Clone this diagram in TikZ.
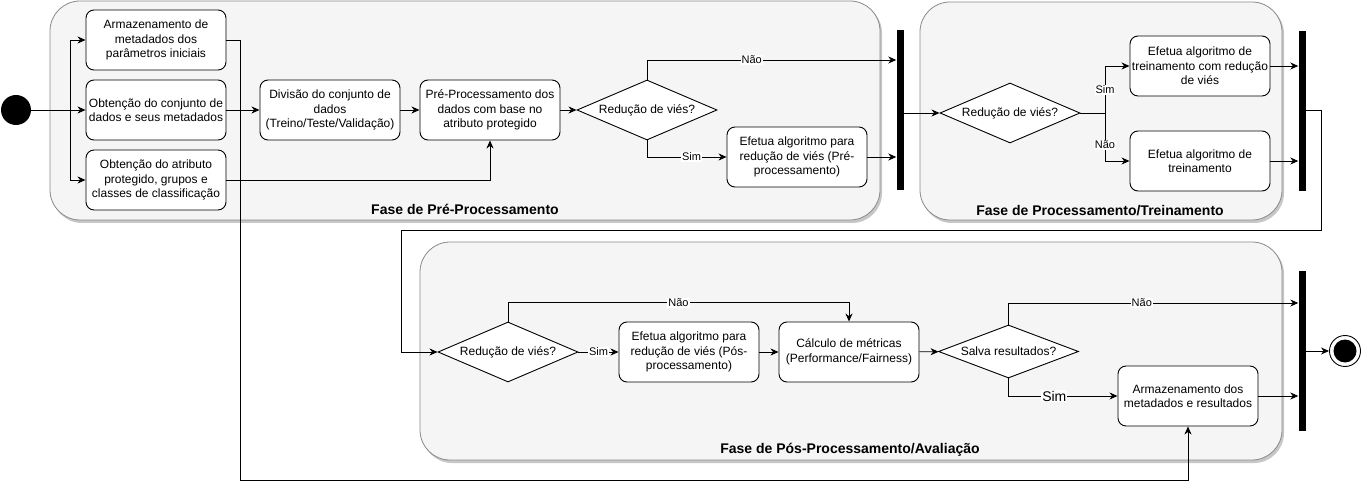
\documentclass[tikz,border=0pt]{standalone}
\usepackage{fontspec}
\setmainfont{Liberation Sans}
\usetikzlibrary{shapes.geometric,arrows.meta,positioning}

\definecolor{phasefill}{HTML}{F5F5F5}
\definecolor{phaseline}{HTML}{8A8A8A}

\tikzset{
  phase/.style={draw=phaseline, fill=phasefill, rounded corners=30pt, line width=0.8pt},
  phaseshadow/.style={fill=black!22, rounded corners=30pt},
  actbox/.style={draw, fill=white, rounded corners=8pt, line width=0.9pt,
    minimum width=140pt, minimum height=60pt, align=center, inner sep=1pt,
    font=\fontsize{12}{14.4}\selectfont},
  decision/.style={diamond, draw, fill=white, aspect=2.33, line width=0.9pt,
    minimum width=140pt, minimum height=60pt, inner sep=0pt,
    font=\fontsize{12}{14.4}\selectfont},
  syncbar/.style={rectangle, fill=black, minimum width=7pt, minimum height=160pt, inner sep=0pt},
  flow/.style={draw, line width=0.9pt, -{Stealth[length=8pt,width=7pt,inset=2.5pt]}},
  lbl/.style={fill=white, inner sep=1pt, font=\fontsize{11}{13}\selectfont},
  phasetitle/.style={font=\bfseries\fontsize{14}{16}\selectfont},
}

\begin{document}
\begin{tikzpicture}[x=1pt, y=-1pt]
\useasboundingbox (0,0) rectangle (1361,489);

% Draw the phases
\fill[phaseshadow] (52,3) rectangle (882,223);
\draw[phase] (50,1) rectangle (880,220);
\fill[phaseshadow] (922,4) rectangle (1284,223);
\draw[phase] (920,2) rectangle (1282,220);
\fill[phaseshadow] (422,244) rectangle (1284,463);
\draw[phase] (420,242) rectangle (1282,460);
\node[phasetitle] (title1) at (465,209) {Fase de Pré-Processamento};
\node[phasetitle] (title2) at (1100,211) {Fase de Processamento/Treinamento};
\node[phasetitle] (title3) at (850,450) {Fase de Pós-Processamento/Avaliação};

% Start and end
\node[circle, fill=black, minimum size=30pt, inner sep=0pt] (start) at (16,110) {};
\node[circle, draw, fill=white, line width=0.9pt, minimum size=31pt, inner sep=0pt] (end) at (1345,351) {};
\node[circle, fill=black, minimum size=23pt, inner sep=0pt] (endcore) at (end.center) {};

% Pre-processing
\coordinate (fork) at (70,110);
\node[actbox] (meta) at (156,40) {Armazenamento de\\metadados dos\\parâmetros iniciais};
\node[actbox] (data) at (156,110) {Obtenção do conjunto de\\dados e seus metadados};
\node[actbox] (attr) at (156,180) {Obtenção do atributo\\protegido, grupos e\\classes de classificação};
\node[actbox] (split) at (330,110) {Divisão do conjunto de\\dados\\(Treino/Teste/Validação)};
\node[actbox] (prep) at (490,110) {Pré-Processamento dos\\dados com base no\\atributo protegido};
\node[decision] (dec1) at (647,110) {Redução de viés?};
\node[actbox] (prealg) at (797,157) {Efetua algoritmo para\\redução de viés (Pré-\\processamento)};
\node[syncbar] (bar1) at (900,110) {};

% Processing / training
\node[decision] (dec2) at (1010,113) {Redução de viés?};
\coordinate (branch) at (1105,113);
\node[actbox] (trainfair) at (1200,66) {Efetua algoritmo de\\treinamento com redução\\de viés};
\node[actbox] (train) at (1200,161) {Efetua algoritmo de\\treinamento};
\node[syncbar] (bar2) at (1302,111) {};

% Post-processing / evaluation
\coordinate (loopR) at (1321,230);
\coordinate (loopL) at (401,230);
\node[decision] (dec3) at (508,352) {Redução de viés?};
\node[actbox] (postalg) at (689,352) {Efetua algoritmo para\\redução de viés (Pós-\\processamento)};
\node[actbox] (metrics) at (849,352) {Cálculo de métricas\\(Performance/Fairness)};
\node[decision, minimum height=53pt] (dec4) at (1008.5,351.5) {Salva resultados?};
\node[actbox] (store) at (1188,396) {Armazenamento dos\\metadados e resultados};
\node[syncbar] (bar3) at (1302,351) {};
\coordinate (detour) at (240,480);

% Connectors
\draw[flow] (start) -- (data);
\draw[flow] (fork) |- (meta);
\draw[flow] (fork) |- (attr);
\draw[flow] (data) -- (split);
\draw[flow] (split) -- (prep);
\draw[flow] (attr) -| (prep);
\draw[flow] (prep) -- (dec1);
\draw[flow] (dec1.north) |- node[lbl, pos=0.71] {Não} (bar1.west |- 0,60);
\draw[flow] (dec1.south) |- node[lbl, pos=0.78] {Sim} (prealg);
\draw[flow] (prealg) -- (prealg -| bar1.west);

\draw[flow] (bar1.east |- dec2) -- (dec2);
\draw[line width=0.9pt] (dec2.east) -- (branch);
\draw[flow] (branch) |- node[lbl, pos=0.245] {Sim} (trainfair);
\draw[flow] (branch) |- node[lbl, pos=0.33] {Não} (train);
\draw[flow] (trainfair) -- (trainfair -| bar2.west);
\draw[flow] (train) -- (train -| bar2.west);

\draw[flow] (bar2.east |- 0,110) -| (loopR) -- (loopL) |- (dec3.west);
\draw[flow] (dec3.north) -- ++(0,-19) -| node[lbl, pos=0.25] {Não} (metrics.north);
\draw[flow] (dec3) -- node[lbl] {Sim} (postalg);
\draw[flow] (postalg) -- (metrics);
\draw[flow] (metrics) -- (dec4);
\draw[flow] (dec4.north) |- node[lbl, pos=0.73] {Não} (bar3.west |- 0,303);
\draw[flow] (dec4.south) |- node[lbl, pos=0.71, font=\fontsize{14}{16}\selectfont] {Sim} (store);
\draw[flow] (store) -- (store -| bar3.west);
\draw[flow] (bar3) -- (end);

\draw[flow] (meta.east) -| (detour) -| (store.south);
\end{tikzpicture}
\end{document}
